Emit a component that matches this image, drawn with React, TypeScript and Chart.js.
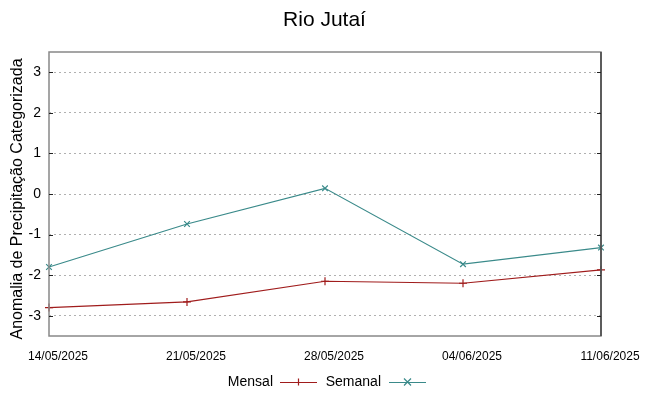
import React, { useEffect, useRef } from "react";
import { Chart, registerables } from "chart.js";

Chart.register(...registerables);

const categories = ["14/05/2025", "21/05/2025", "28/05/2025", "04/06/2025", "11/06/2025"];
const mensal = [-2.80, -2.66, -2.15, -2.20, -1.87];
const semanal = [-1.80, -0.74, 0.14, -1.73, -1.32];
const yTicks = [-3, -2, -1, 0, 1, 2, 3];
const title = "Rio Jutaí";
const yTitle = "Anomalia de Precipitação Categorizada";
const seriesNames = ["Mensal", "Semanal"];

const RED = "#a01c1c";
const TEAL = "#3a8a8a";
const FONT = "'Liberation Sans', Arial, sans-serif";

const framePlugin = {
  id: "frame",
  afterDatasetsDraw(chart: any) {
    const { ctx, chartArea, scales } = chart;
    const { left, right, top, bottom } = chartArea;
    ctx.save();
    ctx.strokeStyle = "#888888";
    ctx.lineWidth = 1.5;
    ctx.strokeRect(left, top, right - left, bottom - top);
    ctx.strokeStyle = "#444444";
    ctx.lineWidth = 1.5;
    ctx.beginPath();
    ctx.moveTo(right, top);
    ctx.lineTo(right, bottom);
    ctx.stroke();
    ctx.strokeStyle = "#222222";
    ctx.lineWidth = 1;
    for (const v of yTicks) {
      const y = Math.round(scales.y.getPixelForValue(v)) + 0.5;
      ctx.beginPath();
      ctx.moveTo(left, y);
      ctx.lineTo(left + 4, y);
      ctx.moveTo(right, y);
      ctx.lineTo(right - 4, y);
      ctx.stroke();
    }
    ctx.restore();
  },
  afterDraw(chart: any) {
    const { ctx } = chart;
    ctx.save();
    ctx.fillStyle = "#000";
    ctx.font = `21px ${FONT}`;
    ctx.textAlign = "center";
    ctx.textBaseline = "middle";
    ctx.fillText(title, 324.5, 20);
    // y title
    ctx.save();
    ctx.translate(18, 199);
    ctx.rotate(-Math.PI / 2);
    ctx.font = `16px ${FONT}`;
    ctx.fillText(yTitle, 0, 0);
    ctx.restore();
    // legend
    ctx.font = `14px ${FONT}`;
    ctx.textAlign = "right";
    const ly = 382;
    const items = [
      { name: seriesNames[0], color: RED, textRight: 273, x0: 280, x1: 317, mark: "+" },
      { name: seriesNames[1], color: TEAL, textRight: 381, x0: 389, x1: 426, mark: "x" },
    ];
    for (const it of items) {
      ctx.fillStyle = "#000";
      ctx.fillText(it.name, it.textRight, ly);
      ctx.strokeStyle = it.color;
      ctx.lineWidth = 1.2;
      ctx.beginPath();
      ctx.moveTo(it.x0, ly + 0.5);
      ctx.lineTo(it.x1, ly + 0.5);
      const cx = (it.x0 + it.x1) / 2;
      const r = 3.5;
      if (it.mark === "+") {
        ctx.moveTo(cx, ly - r);
        ctx.lineTo(cx, ly + r);
      } else {
        ctx.moveTo(cx - r, ly - r);
        ctx.lineTo(cx + r, ly + r);
        ctx.moveTo(cx - r, ly + r);
        ctx.lineTo(cx + r, ly - r);
      }
      ctx.stroke();
    }
    ctx.restore();
  },
};

export default function App() {
  const ref = useRef<HTMLCanvasElement>(null);
  useEffect(() => {
    document.body.style.margin = "0";
    const chart = new Chart(ref.current as HTMLCanvasElement, {
      type: "line",
      data: {
        labels: categories,
        datasets: [
          {
            label: seriesNames[0],
            data: mensal,
            borderColor: RED,
            backgroundColor: RED,
            borderWidth: 1.2,
            pointStyle: "cross",
            pointRadius: 4,
            pointBorderWidth: 1.2,
            tension: 0,
          },
          {
            label: seriesNames[1],
            data: semanal,
            borderColor: TEAL,
            backgroundColor: TEAL,
            borderWidth: 1.2,
            pointStyle: "crossRot",
            pointRadius: 4,
            pointBorderWidth: 1.2,
            tension: 0,
          },
        ],
      },
      options: {
        responsive: false,
        animation: false,
        events: [],
        layout: { padding: { top: 52, left: 0, right: 48, bottom: 0 } },
        plugins: {
          legend: { display: false },
          title: { display: false },
          tooltip: { enabled: false },
        },
        scales: {
          x: {
            type: "category",
            offset: false,
            grid: { display: false, drawTicks: false },
            border: { display: false },
            ticks: {
              autoSkip: false,
              maxRotation: 0,
              minRotation: 0,
              padding: 13,
              labelOffset: 9,
              color: "#000",
              font: { family: FONT, size: 12 },
            },
            afterFit(scale: any) {
              scale.height = 60;
            },
          },
          y: {
            min: -3.5,
            max: 3.5,
            afterBuildTicks(scale: any) {
              scale.ticks = yTicks.map((v) => ({ value: v }));
            },
            grid: {
              color: "#b0b0b0",
              lineWidth: 1,
              tickLength: 0,
              drawTicks: false,
            },
            border: { display: false, dash: [2, 3] },
            ticks: {
              padding: 8,
              color: "#000",
              font: { family: FONT, size: 14 },
            },
            afterFit(scale: any) {
              scale.width = 49;
            },
          },
        },
      } as any,
      plugins: [framePlugin],
    });
    return () => chart.destroy();
  }, []);
  return (
    <div style={{ position: "absolute", left: 0, top: 0, width: 649, height: 396, background: "#fff" }}>
      <canvas ref={ref} width={649} height={396} style={{ width: 649, height: 396 }} />
    </div>
  );
}
